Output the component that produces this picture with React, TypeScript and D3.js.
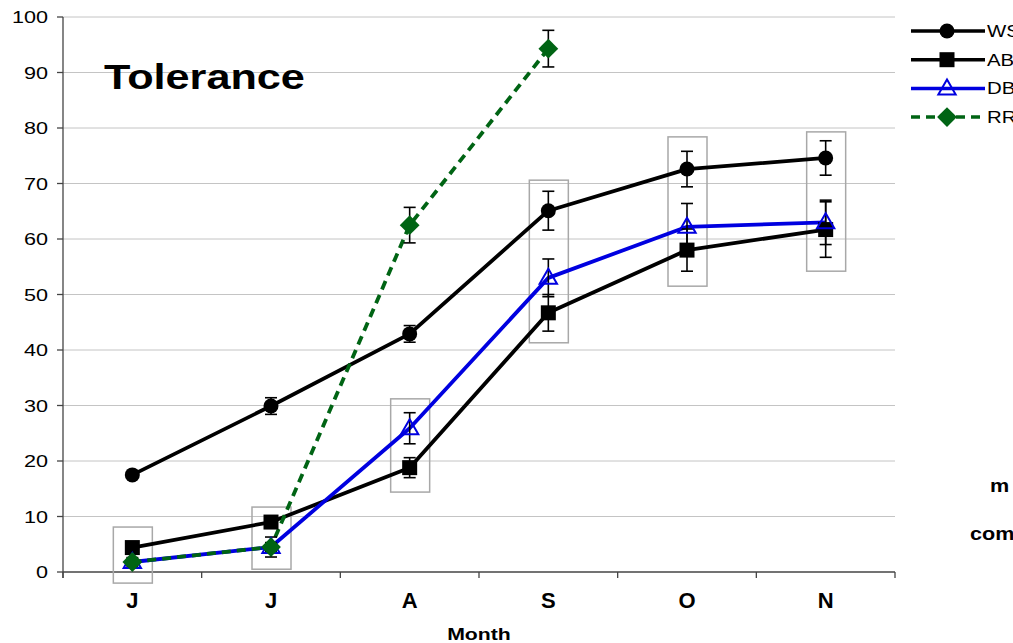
import React from 'react';
import * as d3 from 'd3';

// chart data
const months = ['J', 'J', 'A', 'S', 'O', 'N'];
const yTicks = [0, 10, 20, 30, 40, 50, 60, 70, 80, 90, 100];

const wsMean = [17.5, 29.9, 42.9, 65.1, 72.6, 74.6];
const wsErr = [0.4, 1.5, 1.5, 3.5, 3.2, 3.1];
const abMean = [4.4, 9.0, 18.8, 46.7, 58.0, 61.7];
const abErr = [0.8, 0.6, 1.8, 3.3, 3.8, 5.0];
const dbMean = [1.8, 4.5, 25.9, 53.0, 62.2, 63.0];
const dbErr = [0.8, 1.8, 2.8, 3.4, 4.2, 4.0];
const rrMean = [1.8, 4.5, 62.5, 94.3, null, null];
const rrErr = [0.5, 0.8, 3.2, 3.3, null, null];

// grey highlight boxes per month (value ranges)
const boxLow = [-2, 0.5, 14.4, 41.3, 51.5, 54.2];
const boxHigh = [8.1, 11.7, 31.2, 70.6, 78.4, 79.3];

const W = 1013;
const H = 643;
const margin = { left: 63, right: 118, top: 17, bottom: 71 };

const series = [
  { name: 'WS', mean: wsMean, err: wsErr, color: '#000000', marker: 'circle', dash: null },
  { name: 'AB', mean: abMean, err: abErr, color: '#000000', marker: 'square', dash: null },
  { name: 'DB', mean: dbMean, err: dbErr, color: '#0000e0', marker: 'triangle', dash: null },
  { name: 'RR', mean: rrMean, err: rrErr, color: '#006414', marker: 'diamond', dash: '9,6' },
];

const font = 'Liberation Sans, Arial, sans-serif';

function SText({ x, y, sx = 1, anchor = 'start', size, weight = 'normal', children }: any) {
  return (
    <text transform={`translate(${x},${y}) scale(${sx},1)`} textAnchor={anchor}
      fontFamily={font} fontSize={size} fontWeight={weight} fill="#000">
      {children}
    </text>
  );
}

function Marker({ type, x, y, color }: any) {
  if (type === 'circle') return <circle cx={x} cy={y} r={7.5} fill={color} />;
  if (type === 'square') return <rect x={x - 7.5} y={y - 7.5} width={15} height={15} fill={color} />;
  if (type === 'triangle') {
    const p = d3.symbol().type(d3.symbolTriangle).size(130)();
    return <path d={p || ''} transform={`translate(${x},${y + 1})`} fill="none" stroke={color} strokeWidth={2} />;
  }
  // diamond: a square turned 45 degrees
  return <rect x={-7} y={-7} width={14} height={14} fill={color}
    transform={`translate(${x},${y}) rotate(45)`} />;
}

export default function App() {
  const x = d3.scalePoint<number>()
    .domain(months.map((_, i) => i))
    .range([margin.left, W - margin.right])
    .padding(0.5);
  const step = x.step();
  const y = d3.scaleLinear().domain([0, 100]).range([H - margin.bottom, margin.top]);

  const line = d3.line<any>()
    .defined(d => d.v != null)
    .x(d => x(d.i) as number)
    .y(d => y(d.v));

  const x0 = margin.left;
  const x1 = W - margin.right;
  const yBase = y(0);
  const boundaries = d3.range(months.length + 1).map(i => x0 + i * step);

  return (
    <svg width={W} height={H} style={{ position: 'absolute', left: 0, top: 0, background: '#fff' }}>
      {/* gridlines */}
      {yTicks.filter(t => t > 0).map(t => (
        <line key={t} x1={x0} x2={x1} y1={y(t)} y2={y(t)} stroke="#c4c4c4" strokeWidth={1} />
      ))}

      {/* y axis */}
      <line x1={x0} x2={x0} y1={margin.top} y2={yBase + 6} stroke="#444" strokeWidth={1.3} />
      {yTicks.map(t => (
        <g key={t}>
          <line x1={x0 - 6} x2={x0} y1={y(t)} y2={y(t)} stroke="#444" strokeWidth={1.3} />
          <SText x={48} y={y(t) + 6} sx={1.27} anchor="end" size={17}>{t}</SText>
        </g>
      ))}

      {/* x axis */}
      <line x1={x0} x2={x1} y1={yBase} y2={yBase} stroke="#444" strokeWidth={1.3} />
      {boundaries.map((b, i) => (
        <line key={i} x1={b} x2={b} y1={yBase} y2={yBase + 6} stroke="#444" strokeWidth={1.3} />
      ))}
      {months.map((m, i) => (
        <SText key={i} x={x(i) as number} y={608} anchor="middle" size={22} weight="bold">{m}</SText>
      ))}
      <SText x={479} y={640} sx={1.25} anchor="middle" size={17} weight="bold">Month</SText>

      {/* grey boxes */}
      {months.map((_, i) => (
        <rect key={i} x={(x(i) as number) - 19} y={y(boxHigh[i])} width={39}
          height={y(boxLow[i]) - y(boxHigh[i])} fill="none" stroke="#a8a8a8" strokeWidth={1.5} />
      ))}

      {/* lines */}
      {series.map(s => (
        <path key={s.name} d={line(s.mean.map((v, i) => ({ i, v }))) || ''} fill="none"
          stroke={s.color} strokeWidth={3.8} strokeDasharray={s.dash || undefined} strokeLinejoin="round" />
      ))}

      {/* error bars */}
      {series.map(s => s.mean.map((v, i) => {
        if (v == null) return null;
        const e = s.err[i] as number;
        const cx = x(i) as number;
        return (
          <g key={s.name + i} stroke="#000" strokeWidth={1.6}>
            <line x1={cx} x2={cx} y1={y(v + e)} y2={y(v - e)} />
            <line x1={cx - 6} x2={cx + 6} y1={y(v + e)} y2={y(v + e)} />
            <line x1={cx - 6} x2={cx + 6} y1={y(v - e)} y2={y(v - e)} />
          </g>
        );
      }))}

      {/* markers */}
      {series.map(s => s.mean.map((v, i) => v == null ? null : (
        <Marker key={s.name + i} type={s.marker} x={x(i)} y={y(v)} color={s.color} />
      )))}

      {/* title */}
      <SText x={104} y={89} sx={1.2} size={36} weight="bold">Tolerance</SText>

      {/* legend */}
      {series.map((s, i) => {
        const ly = 31 + i * 28.7;
        return (
          <g key={s.name}>
            <line x1={911} x2={985} y1={ly} y2={ly} stroke={s.color} strokeWidth={3.5}
              strokeDasharray={s.dash || undefined} />
            <Marker type={s.marker} x={947} y={ly} color={s.color} />
            <SText x={987} y={ly + 6} sx={1.2} size={17}>{s.name}</SText>
          </g>
        );
      })}

      {/* clipped side notes */}
      <SText x={990} y={492} sx={1.2} size={18} weight="bold">m</SText>
      <SText x={970} y={540} sx={1.2} size={18} weight="bold">com</SText>
    </svg>
  );
}
